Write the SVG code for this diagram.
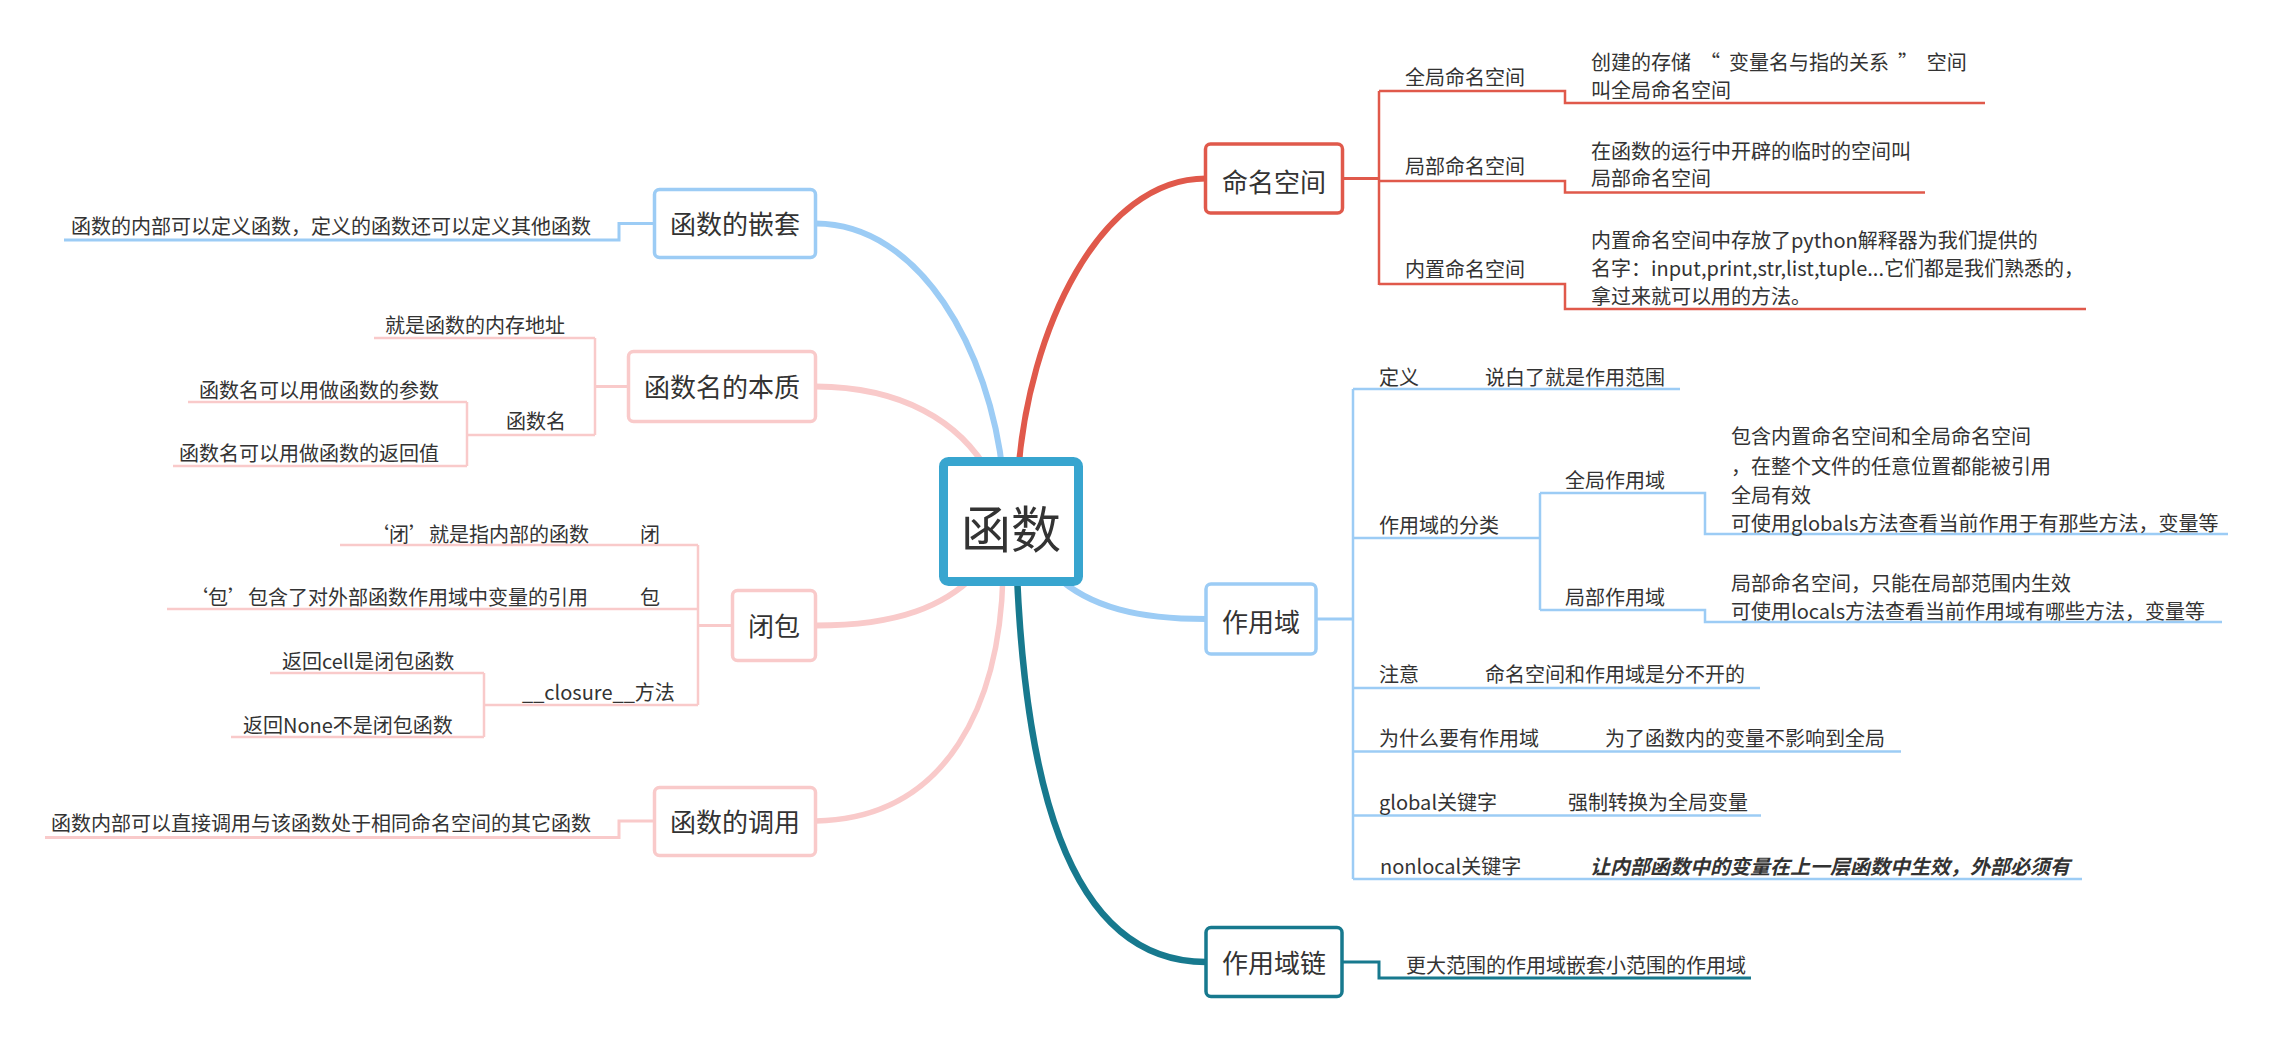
<svg xmlns="http://www.w3.org/2000/svg" width="2287" height="1049" viewBox="0 0 2287 1049">
<style>
text{font-family:"Noto Sans CJK SC","Liberation Sans",sans-serif;fill:#333333}
.t{font-size:20px}
.m{font-size:26px;text-anchor:middle}
.c{font-size:50px;text-anchor:middle}
.bi{font-weight:bold;font-style:italic}
.pre{white-space:pre}
.ln{fill:none;stroke-width:2.5}
.stub{fill:none;stroke-width:3}
.cv{fill:none;stroke-width:6;stroke-linecap:round}
.box{fill:#ffffff;stroke-width:3.5}
.red{stroke:#E0594B}
.blue{stroke:#9CCCF5}
.pink{stroke:#F9CACA}
.teal{stroke:#17798E}
</style>
<rect width="2287" height="1049" fill="#ffffff"/>
<g id="connectors">
  <path class="cv blue" d="M816,223.5 C920,224 990,350 1003,475"/>
  <path class="cv pink" d="M816,386.5 C900,387 960,420 990,475"/>
  <path class="cv red" d="M1018,475 C1028,330 1100,178.5 1206,178.5"/>
  <path class="cv blue" d="M1055,575 C1090,608 1140,619 1206,619"/>
  <path class="cv pink" d="M816,625.5 C900,625.5 945,605 975,575"/>
  <path class="cv pink" style="stroke-width:5.5" d="M1003,575 C1000,700 950,818 816,821"/>
  <path class="cv teal" style="stroke-width:6.5" d="M1017,575 C1025,760 1060,962 1206,962"/>

  <path class="stub red" d="M1342,178.5 H1379"/>
  <path class="ln red" d="M1379,91 V285"/>
  <path class="ln red" d="M1379,91 H1565 V103 H1985"/>
  <path class="ln red" d="M1379,181 H1565 V192.5 H1925"/>
  <path class="ln red" d="M1379,284 H1565 V309 H2086"/>

  <path class="stub blue" d="M1316,619 H1353"/>
  <path class="ln blue" d="M1353,389 V879"/>
  <path class="ln blue" d="M1353,389 H1680"/>
  <path class="ln blue" d="M1353,538 H1540"/>
  <path class="ln blue" d="M1540,493 V610"/>
  <path class="ln blue" d="M1540,493 H1705 V534 H2228"/>
  <path class="ln blue" d="M1540,610 H1705 V622 H2222"/>
  <path class="ln blue" d="M1353,688 H1760"/>
  <path class="ln blue" d="M1353,751.5 H1901"/>
  <path class="ln blue" d="M1353,815.5 H1761"/>
  <path class="ln blue" d="M1353,879 H2082"/>

  <path class="stub teal" d="M1342,962 H1379 V978 H1751"/>

  <path class="stub blue" d="M654,223.5 H619 V240 H64"/>

  <path class="stub pink" d="M628,386.5 H595"/>
  <path class="ln pink" d="M595,338 V435"/>
  <path class="ln pink" d="M595,338 H374"/>
  <path class="ln pink" d="M595,435 H467"/>
  <path class="ln pink" d="M467,402 V466"/>
  <path class="ln pink" d="M467,402 H188"/>
  <path class="ln pink" d="M467,466 H173"/>

  <path class="stub pink" d="M732,625.5 H698"/>
  <path class="ln pink" d="M698,545 V705"/>
  <path class="ln pink" d="M698,545 H340"/>
  <path class="ln pink" d="M698,609 H167"/>
  <path class="ln pink" d="M698,705 H484"/>
  <path class="ln pink" d="M484,673 V737"/>
  <path class="ln pink" d="M484,673 H270"/>
  <path class="ln pink" d="M484,737 H231"/>

  <path class="stub pink" d="M654,821 H619 V837.5 H45"/>
</g>

<g id="root">
  <rect x="943.5" y="461.5" width="135" height="120" rx="5" fill="#ffffff" stroke="#38A5CF" stroke-width="9"/>
  <text class="c" x="1011" y="548">函数</text>
</g>

<g id="node-mingmingkongjian">
  <rect class="box red" x="1205.5" y="144" width="137" height="69" rx="5"/>
  <text class="m" x="1274" y="192">命名空间</text>
  <text class="t" x="1405" y="84.5">全局命名空间</text>
  <text class="t pre" x="1591" y="70">创建的存储  “  变量名与指的关系  ”  空间</text>
  <text class="t" x="1591" y="97.5">叫全局命名空间</text>
  <text class="t" x="1405" y="174">局部命名空间</text>
  <text class="t" x="1591" y="159">在函数的运行中开辟的临时的空间叫</text>
  <text class="t" x="1591" y="186">局部命名空间</text>
  <text class="t" x="1405" y="277">内置命名空间</text>
  <text class="t" x="1591" y="248">内置命名空间中存放了python解释器为我们提供的</text>
  <text class="t" x="1591" y="276">名字：input,print,str,list,tuple...它们都是我们熟悉的，</text>
  <text class="t" x="1591" y="304">拿过来就可以用的方法。</text>
</g>

<g id="node-zuoyongyu">
  <rect class="box blue" x="1206" y="584" width="110" height="70" rx="5"/>
  <text class="m" x="1261" y="632">作用域</text>
  <text class="t" x="1379" y="384.5">定义</text>
  <text class="t" x="1485" y="384.5">说白了就是作用范围</text>
  <text class="t" x="1379" y="532.5">作用域的分类</text>
  <text class="t" x="1565" y="487.5">全局作用域</text>
  <text class="t" x="1731" y="444">包含内置命名空间和全局命名空间</text>
  <text class="t" x="1731" y="474">，在整个文件的任意位置都能被引用</text>
  <text class="t" x="1731" y="502.5">全局有效</text>
  <text class="t" x="1731" y="530.5">可使用globals方法查看当前作用于有那些方法，变量等</text>
  <text class="t" x="1565" y="604.5">局部作用域</text>
  <text class="t" x="1731" y="590.5">局部命名空间，只能在局部范围内生效</text>
  <text class="t" x="1731" y="619">可使用locals方法查看当前作用域有哪些方法，变量等</text>
  <text class="t" x="1379" y="681.5">注意</text>
  <text class="t" x="1485" y="681.5">命名空间和作用域是分不开的</text>
  <text class="t" x="1379" y="745.5">为什么要有作用域</text>
  <text class="t" x="1605" y="745.5">为了函数内的变量不影响到全局</text>
  <text class="t" x="1379" y="809.5">global关键字</text>
  <text class="t" x="1568" y="809.5">强制转换为全局变量</text>
  <text class="t" x="1380" y="874">nonlocal关键字</text>
  <text class="t bi" x="1590" y="874">让内部函数中的变量在上一层函数中生效，外部必须有</text>
</g>

<g id="node-zuoyongyulian">
  <rect class="box teal" x="1206" y="927.5" width="136" height="69" rx="5"/>
  <text class="m" x="1274" y="973">作用域链</text>
  <text class="t" x="1406" y="973">更大范围的作用域嵌套小范围的作用域</text>
</g>

<g id="node-qiantao">
  <rect class="box blue" x="654.5" y="189.5" width="161" height="68" rx="5"/>
  <text class="m" x="735" y="233.5">函数的嵌套</text>
  <text class="t" x="71" y="233.5">函数的内部可以定义函数，定义的函数还可以定义其他函数</text>
</g>

<g id="node-benzhi">
  <rect class="box pink" x="628.5" y="351.5" width="187" height="70" rx="5"/>
  <text class="m" x="722" y="397">函数名的本质</text>
  <text class="t" x="385" y="333">就是函数的内存地址</text>
  <text class="t" x="506" y="428.5">函数名</text>
  <text class="t" x="199" y="397.5">函数名可以用做函数的参数</text>
  <text class="t" x="179" y="461">函数名可以用做函数的返回值</text>
</g>

<g id="node-bibao">
  <rect class="box pink" x="732.5" y="590.5" width="83" height="70" rx="5"/>
  <text class="m" x="774" y="636">闭包</text>
  <text class="t" x="369" y="541.5">‘闭’就是指内部的函数</text>
  <text class="t" x="640" y="541.5">闭</text>
  <text class="t" x="188" y="604.5">‘包’包含了对外部函数作用域中变量的引用</text>
  <text class="t" x="640" y="604.5">包</text>
  <text class="t" x="522" y="700">__closure__方法</text>
  <text class="t" x="282" y="668.5">返回cell是闭包函数</text>
  <text class="t" x="243" y="732.5">返回None不是闭包函数</text>
</g>

<g id="node-diaoyong">
  <rect class="box pink" x="654.5" y="787.5" width="161" height="68" rx="5"/>
  <text class="m" x="735" y="831.5">函数的调用</text>
  <text class="t" x="51" y="831">函数内部可以直接调用与该函数处于相同命名空间的其它函数</text>
</g>
</svg>
